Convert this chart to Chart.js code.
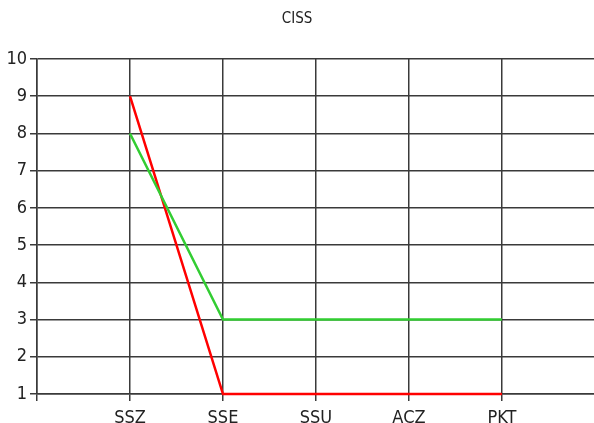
<!DOCTYPE html>
<html>
<head>
<meta charset="utf-8">
<script src="https://cdn.jsdelivr.net/npm/chart.js@4"></script>
<style>
  html, body { margin: 0; padding: 0; background: #fff; }
  #wrap { width: 594px; height: 423px; }
</style>
</head>
<body>
<div id="wrap"><canvas id="c" width="594" height="423"></canvas></div>
<script>
const title = 'CISS';
const categories = ['SSZ', 'SSE', 'SSU', 'ACZ', 'PKT'];
const redValues = [9, 1, 1, 1, 1];
const greenValues = [8, 3, 3, 3, 3];
const yTicks = [1, 2, 3, 4, 5, 6, 7, 8, 9, 10];

const FONT = "'DejaVu Sans Condensed', 'Liberation Sans Narrow', 'Liberation Sans', sans-serif";
const toPoints = vals => vals.map((v, i) => ({ x: i + 1, y: v }));

new Chart(document.getElementById('c'), {
  type: 'line',
  data: {
    datasets: [
      { label: 'red', data: toPoints(redValues), borderColor: '#ff0000', borderWidth: 2.5, pointRadius: 0, fill: false, tension: 0, order: 2, clip: 4 },
      { label: 'green', data: toPoints(greenValues), borderColor: '#32cd32', borderWidth: 2.5, pointRadius: 0, fill: false, tension: 0, order: 1, clip: 4 }
    ]
  },
  options: {
    responsive: false,
    animation: false,
    layout: { padding: 0 },
    plugins: {
      legend: { display: false },
      tooltip: { enabled: false },
      title: {
        display: true,
        text: title,
        color: '#222',
        font: { family: FONT, size: 15, weight: 'normal' },
        padding: { top: 10, bottom: 31 }
      }
    },
    scales: {
      x: {
        type: 'linear',
        min: 0,
        max: 5.99,
        afterBuildTicks: s => { s.ticks = [0, 1, 2, 3, 4, 5].map(v => ({ value: v })); },
        afterFit: s => { s.height = 29; },
        grid: { color: '#3a3a3a', lineWidth: 1.5, tickLength: 7, drawTicks: true },
        border: { color: '#3a3a3a', width: 1.5 },
        ticks: {
          color: '#222',
          font: { family: FONT, size: 18 },
          padding: 7,
          maxRotation: 0,
          autoSkip: false,
          callback: v => (v >= 1 && v <= categories.length) ? categories[v - 1] : ''
        }
      },
      y: {
        type: 'linear',
        min: 1,
        max: 10,
        afterBuildTicks: s => { s.ticks = yTicks.map(v => ({ value: v })); },
        afterFit: s => { s.width = 37; },
        grid: { color: '#3a3a3a', lineWidth: 1.5, tickLength: 7 },
        border: { color: '#3a3a3a', width: 1.5 },
        ticks: {
          color: '#222',
          font: { family: FONT, size: 18 },
          padding: 3,
          callback: v => String(v)
        }
      }
    }
  }
});
</script>
</body>
</html>
